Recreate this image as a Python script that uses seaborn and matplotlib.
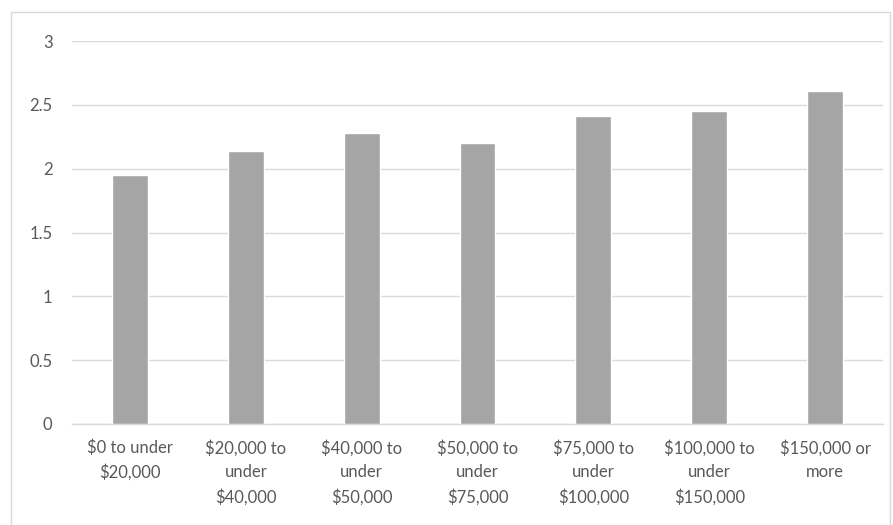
import matplotlib
matplotlib.use("Agg")
import matplotlib.pyplot as plt
import seaborn as sns
import pandas as pd
from matplotlib.patches import Rectangle

categories = ["$0 to under\n$20,000", "$20,000 to\nunder\n$40,000", "$40,000 to\nunder\n$50,000",
              "$50,000 to\nunder\n$75,000", "$75,000 to\nunder\n$100,000", "$100,000 to\nunder\n$150,000",
              "$150,000 or\nmore"]
values = [1.95, 2.14, 2.28, 2.20, 2.41, 2.45, 2.61]
yticks = [0, 0.5, 1, 1.5, 2, 2.5, 3]
ytick_labels = ["0", "0.5", "1", "1.5", "2", "2.5", "3"]

sns.set_theme(style="white")
plt.rcParams['font.family'] = ['Lato', 'DejaVu Sans']

df = pd.DataFrame({"cat": categories, "val": values})

fig = plt.figure(figsize=(8.93, 5.25), dpi=100)
ax = fig.add_axes([72/893, 1 - 424/525, (883-72)/893, (424-41)/525])
sns.barplot(data=df, x="cat", y="val", color="#a5a5a5", width=0.31, saturation=1, ax=ax, zorder=3)
ax.set_ylim(0, 3)
ax.set_xlim(-0.5, len(categories) - 0.5)
ax.set_yticks(yticks)
ax.set_yticklabels(ytick_labels)
ax.yaxis.grid(True, color="#d9d9d9", linewidth=1, zorder=0)
ax.set_axisbelow(True)
for s in ["top", "right", "left"]:
    ax.spines[s].set_visible(False)
ax.spines["bottom"].set_color("#d9d9d9")
ax.spines["bottom"].set_linewidth(1)
ax.set_xlabel("")
ax.set_ylabel("")
ax.tick_params(axis="both", length=0, labelsize=12, labelcolor="#595959")
ax.tick_params(axis="y", pad=14)
ax.tick_params(axis="x", pad=11)
for t in ax.get_xticklabels():
    t.set_linespacing(1.6)

fig.patches.append(Rectangle((11/893, -0.01), (890-11)/893, 1 - 12/525 + 0.01, transform=fig.transFigure,
                             fill=False, edgecolor="#d9d9d9", linewidth=1))
fig.savefig("out.png", dpi=100, facecolor="white")
